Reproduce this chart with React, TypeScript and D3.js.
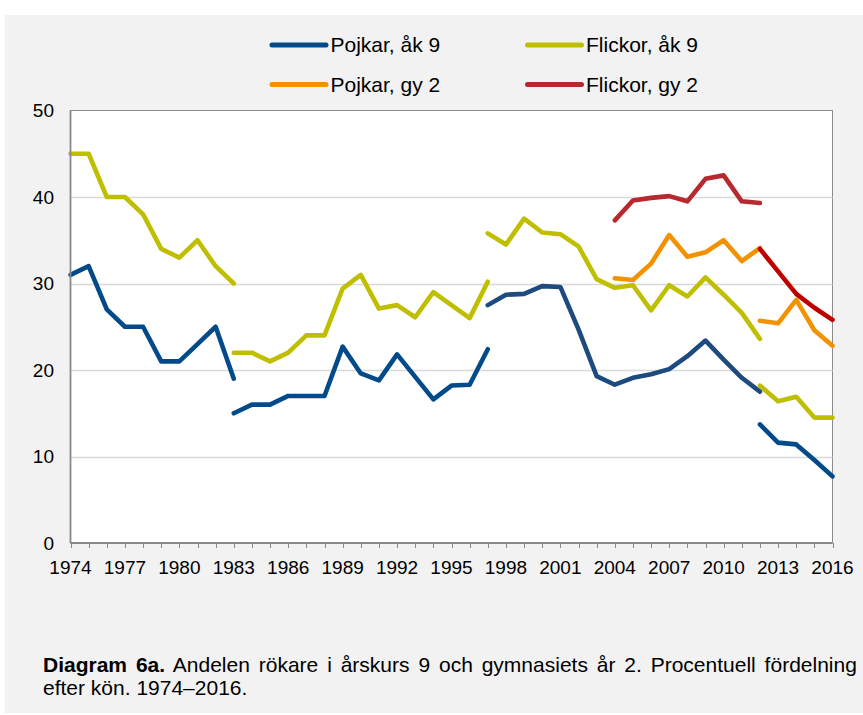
import React from "react";
import * as d3 from "d3";

// ---- Data ----
const yearsA = [1974, 1975, 1976, 1977, 1978, 1979, 1980, 1981, 1982, 1983];
const pojkarAk9A = [31, 32, 27, 25, 25, 21, 21, 23, 25, 19];
const flickorAk9A = [45, 45, 40, 40, 38, 34, 33, 35, 32, 30];

const yearsB = [1983, 1984, 1985, 1986, 1987, 1988, 1989, 1990, 1991, 1992, 1993, 1994, 1995, 1996, 1997];
const pojkarAk9B = [15, 16, 16, 17, 17, 17, 22.7, 19.6, 18.8, 21.8, 19.2, 16.6, 18.2, 18.3, 22.4];
const flickorAk9B = [22, 22, 21, 22, 24, 24, 29.4, 31, 27.1, 27.5, 26.1, 29, 27.5, 26, 30.2];

const yearsC = [1997, 1998, 1999, 2000, 2001, 2002, 2003, 2004, 2005, 2006, 2007, 2008, 2009, 2010, 2011, 2012];
const pojkarAk9C = [27.5, 28.7, 28.8, 29.7, 29.6, 24.7, 19.3, 18.3, 19.1, 19.5, 20.1, 21.6, 23.4, 21.2, 19.1, 17.5];
const flickorAk9C = [35.8, 34.5, 37.5, 35.9, 35.7, 34.3, 30.5, 29.5, 29.8, 26.9, 29.8, 28.5, 30.7, 28.7, 26.6, 23.6];

const yearsGyC = [2004, 2005, 2006, 2007, 2008, 2009, 2010, 2011, 2012];
const pojkarGy2C = [30.6, 30.4, 32.3, 35.6, 33.1, 33.6, 35, 32.6, 34.1];
const flickorGy2C = [37.3, 39.6, 39.9, 40.1, 39.5, 42.1, 42.5, 39.5, 39.3];

const yearsD = [2012, 2013, 2014, 2015, 2016];
const pojkarAk9D = [13.7, 11.6, 11.4, 9.6, 7.7];
const flickorAk9D = [18.2, 16.4, 16.9, 14.5, 14.5];
const pojkarGy2D = [25.7, 25.4, 28.1, 24.6, 22.8];
const flickorGy2D = [34, 31.4, 28.8, 27.2, 25.8];

const yTicks = [0, 10, 20, 30, 40, 50];
const xLabelYears = [1974, 1977, 1980, 1983, 1986, 1989, 1992, 1995, 1998, 2001, 2004, 2007, 2010, 2013, 2016];

const legendLabels = ["Pojkar, åk 9", "Flickor, åk 9", "Pojkar, gy 2", "Flickor, gy 2"];

const captionBold = "Diagram 6a.";
const captionRest1 = " Andelen rökare i årskurs 9 och gymnasiets år 2. Procentuell fördelning";
const captionLine2 = "efter kön. 1974–2016.";

// ---- Styles ----
const FONT = "'Liberation Sans', Arial, Helvetica, sans-serif";
const C_BLUE = "#034A8A";
const C_BLUE2 = "#1D4B80";
const C_YELLOW = "#BFBF00";
const C_ORANGE = "#F39200";
const C_RED = "#B7282F";
const C_RED2 = "#C00000";

const W = 863;
const H = 715;
const plot = { left: 70.5, right: 832.5, top: 110.5, bottom: 543 };

function measure(text: string, font: string): number {
  try {
    const ctx = document.createElement("canvas").getContext("2d");
    if (!ctx) return text.length * 10;
    ctx.font = font;
    return ctx.measureText(text).width;
  } catch (e) {
    return text.length * 10;
  }
}

export default function App() {
  const x = d3.scaleLinear().domain([1974, 2016]).range([plot.left, plot.right]);
  const y = d3.scaleLinear().domain([0, 50]).range([plot.bottom, plot.top]);
  const line = d3
    .line<[number, number]>()
    .x((d) => x(d[0]))
    .y((d) => y(d[1]));

  const seg = (years: number[], vals: number[]) => line(years.map((yr, i) => [yr, vals[i]] as [number, number])) || "";

  const segments = [
    { d: seg(yearsA, pojkarAk9A), c: C_BLUE },
    { d: seg(yearsA, flickorAk9A), c: C_YELLOW },
    { d: seg(yearsB, pojkarAk9B), c: C_BLUE },
    { d: seg(yearsB, flickorAk9B), c: C_YELLOW },
    { d: seg(yearsC, pojkarAk9C), c: C_BLUE2 },
    { d: seg(yearsC, flickorAk9C), c: C_YELLOW },
    { d: seg(yearsGyC, pojkarGy2C), c: C_ORANGE },
    { d: seg(yearsGyC, flickorGy2C), c: C_RED },
    { d: seg(yearsD, pojkarAk9D), c: C_BLUE },
    { d: seg(yearsD, flickorAk9D), c: C_YELLOW },
    { d: seg(yearsD, pojkarGy2D), c: C_ORANGE },
    { d: seg(yearsD, flickorGy2D), c: C_RED2 },
  ];

  const allYears = d3.range(1974, 2017);

  // caption justification
  const capSize = 21;
  const capX = 43;
  const capRight = 858;
  const natural =
    measure(captionBold, `bold ${capSize}px ${FONT}`) + measure(captionRest1, `${capSize}px ${FONT}`);
  const spaces = (captionBold + captionRest1).split(" ").length - 1;
  const wordSpacing = Math.max(-2, (capRight - capX - natural) / spaces);

  const legendItems = [
    { label: legendLabels[0], c: C_BLUE, lx: 272, ly: 45 },
    { label: legendLabels[1], c: C_YELLOW, lx: 527.5, ly: 45 },
    { label: legendLabels[2], c: C_ORANGE, lx: 272, ly: 84.5 },
    { label: legendLabels[3], c: C_RED, lx: 527.5, ly: 84.5 },
  ];

  return (
    <svg
      width={W}
      height={H}
      style={{ position: "absolute", left: 0, top: 0, display: "block" }}
      fontFamily={FONT}
    >
      <rect x={0} y={0} width={W} height={H} fill="#ffffff" />
      <rect x={5} y={15} width={W - 5} height={698} fill="#F2F2F2" />

      {/* plot area */}
      <rect
        x={plot.left}
        y={plot.top}
        width={plot.right - plot.left}
        height={plot.bottom - plot.top}
        fill="#ffffff"
        stroke="#8C8C8C"
        strokeWidth={1}
      />
      {yTicks
        .filter((t) => t !== 0 && t !== 50)
        .map((t) => (
          <line
            key={t}
            x1={plot.left}
            x2={plot.right}
            y1={Math.round(y(t)) + 0.5}
            y2={Math.round(y(t)) + 0.5}
            stroke="#D9D9D9"
            strokeWidth={1.3}
          />
        ))}

      {/* lines */}
      {segments.map((s, i) => (
        <path
          key={i}
          d={s.d}
          fill="none"
          stroke={s.c}
          strokeWidth={4.6}
          strokeLinejoin="round"
          strokeLinecap="round"
        />
      ))}

      {/* axes */}
      <line x1={plot.left} x2={plot.left} y1={plot.top} y2={plot.bottom} stroke="#898989" strokeWidth={1.8} />
      <line x1={plot.left} x2={plot.right} y1={plot.bottom} y2={plot.bottom} stroke="#898989" strokeWidth={1.8} />
      {allYears.map((yr) => (
        <line
          key={yr}
          x1={Math.round(x(yr)) + 0.5}
          x2={Math.round(x(yr)) + 0.5}
          y1={plot.bottom}
          y2={plot.bottom + 5}
          stroke="#898989"
          strokeWidth={1}
        />
      ))}
      {xLabelYears.map((yr) => (
        <text key={yr} x={x(yr)} y={574} fontSize={19} textAnchor="middle" fill="#000">
          {yr}
        </text>
      ))}
      {yTicks.map((t) => (
        <text key={t} x={54} y={y(t) + 6.5} fontSize={19} textAnchor="end" fill="#000">
          {t}
        </text>
      ))}

      {/* legend */}
      {legendItems.map((it) => (
        <g key={it.label}>
          <line
            x1={it.lx}
            x2={it.lx + 54}
            y1={it.ly}
            y2={it.ly}
            stroke={it.c}
            strokeWidth={5}
            strokeLinecap="round"
          />
          <text x={it.lx + 58.5} y={it.ly + 7} fontSize={21} fill="#000">
            {it.label}
          </text>
        </g>
      ))}

      {/* caption */}
      <text x={capX} y={672} fontSize={capSize} fill="#000" style={{ wordSpacing: `${wordSpacing}px` }}>
        <tspan fontWeight="bold">{captionBold}</tspan>
        <tspan>{captionRest1}</tspan>
      </text>
      <text x={capX} y={695} fontSize={capSize} fill="#000">
        {captionLine2}
      </text>
    </svg>
  );
}
